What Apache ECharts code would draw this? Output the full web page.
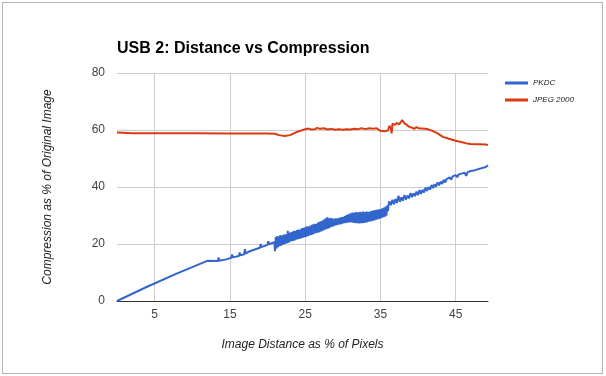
<!DOCTYPE html>
<html>
<head>
<meta charset="utf-8">
<script src="https://cdn.jsdelivr.net/npm/echarts@6/dist/echarts.min.js"></script>
<style>
  body { margin: 0; background: #fff; }
  #chart { position: absolute; left: 0; top: 0; width: 606px; height: 376px; }
  #frame { position: absolute; left: 2px; top: 2px; width: 599px; height: 370px; border: 1px solid #b5b5b5; pointer-events: none; }
</style>
</head>
<body>
<div id="chart"></div>
<div id="frame"></div>
<script>
// x ticks shown on the axis
const xTicks = [5, 15, 25, 35, 45]

// PKDC: [distance %, compression %]
const pkdc = [
  [0, 0], [4, 5], [8, 9.7], [12, 14.1], [13.4, 14.0],
  [13.5, 15.3], [13.6, 14.1], [14.5, 14.6], [15.2, 15.2], [15.3, 16.3], [15.4, 15.3],
  [16.2, 15.8], [16.3, 17], [16.4, 16], [16.9, 16.4], [17, 18.2], [17.1, 16.6],
  [17.5, 17.3], [18, 17.8], [19, 18.7], [19.1, 20], [19.2, 18.9], [20, 19.7],
  [20.1, 21], [20.2, 19.9], [20.9, 20.6],
  [21.0, 17.5], [21.1, 22.4], [21.2, 18.4], [21.3, 22.8], [21.4, 18.9], [21.5, 22.6], [21.6, 19.2], [21.7, 23.1], [21.8, 19.4], [21.9, 22.9],
  [22.0, 19.7], [22.1, 23.2], [22.2, 19.9], [22.3, 23.4], [22.4, 20.1], [22.5, 23.3], [22.6, 20.3], [22.7, 24.6], [22.8, 20.5], [22.9, 23.9],
  [23.0, 20.8], [23.1, 24.1], [23.2, 21.0], [23.3, 24.3], [23.4, 21.1], [23.5, 24.6], [23.6, 21.3], [23.7, 24.5], [23.8, 21.5], [23.9, 24.9],
  [24.0, 21.7], [24.1, 25.1], [24.2, 21.8], [24.3, 25.0], [24.4, 22.0], [24.5, 25.4], [24.6, 22.1], [24.7, 25.6], [24.8, 22.3], [24.9, 25.8],
  [25.0, 22.5], [25.1, 26.0], [25.2, 22.6], [25.3, 26.2], [25.4, 22.8], [25.5, 26.1], [25.6, 23.0], [25.7, 26.5], [25.8, 23.2], [25.9, 26.7],
  [26.0, 23.4], [26.1, 26.9], [26.2, 23.6], [26.3, 27.1], [26.4, 23.8], [26.5, 27.0], [26.6, 24.0], [26.7, 27.5], [26.8, 24.1], [26.9, 27.8],
  [27.0, 24.3], [27.1, 28.0], [27.2, 24.5], [27.3, 28.2], [27.4, 24.8], [27.5, 28.6], [27.6, 25.0], [27.7, 28.9], [27.8, 25.2], [27.9, 29.4],
  [28.0, 25.4], [28.1, 29.2], [28.2, 25.6], [28.3, 29.0], [28.4, 25.9], [28.5, 29.1], [28.6, 26.1], [28.7, 28.8], [28.8, 26.3], [28.9, 28.9],
  [29.0, 26.5], [29.1, 29.0], [29.2, 26.6], [29.3, 28.9], [29.4, 26.8], [29.5, 29.2], [29.6, 26.9], [29.7, 29.3], [29.8, 27.0], [29.9, 29.4],
  [30.0, 27.2], [30.1, 29.5], [30.2, 27.3], [30.3, 29.8], [30.4, 27.4], [30.5, 30.1], [30.6, 27.5], [30.7, 30.3], [30.8, 27.6], [30.9, 30.6],
  [31.0, 27.7], [31.1, 30.8], [31.2, 27.6], [31.3, 31.0], [31.4, 27.5], [31.5, 30.9], [31.6, 27.4], [31.7, 31.1], [31.8, 27.3], [31.9, 31.2],
  [32.0, 27.3], [32.1, 31.0], [32.2, 27.2], [32.3, 31.3], [32.4, 27.3], [32.5, 31.1], [32.6, 27.3], [32.7, 31.4], [32.8, 27.4], [32.9, 31.2],
  [33.0, 27.5], [33.1, 31.3], [33.2, 27.6], [33.3, 31.4], [33.4, 27.8], [33.5, 31.2], [33.6, 27.9], [33.7, 31.5], [33.8, 28.0], [33.9, 31.6],
  [34.0, 28.2], [34.1, 31.7], [34.2, 28.3], [34.3, 31.9], [34.4, 28.5], [34.5, 32.0], [34.6, 28.6], [34.7, 32.1], [34.8, 28.8], [34.9, 32.2],
  [35.0, 29.0], [35.1, 32.3], [35.2, 29.2], [35.3, 32.5], [35.4, 29.4], [35.5, 32.8], [35.6, 29.6], [35.7, 33.1], [35.8, 29.9], [35.9, 33.5],
  [36.0, 31.5], [36.1, 34.0],
  [36.2, 35.0], [36.4, 33.6], [36.6, 35.5], [36.8, 34.0], [37.0, 35.8], [37.2, 34.4], [37.4, 36.9], [37.6, 34.8], [37.8, 36.4], [38.0, 35.2],
  [38.2, 37.2], [38.4, 35.6], [38.6, 37.0], [38.8, 36.0], [39.0, 37.9], [39.2, 36.4], [39.4, 37.8], [39.6, 36.8], [39.8, 38.4], [40.0, 37.2],
  [40.2, 38.9], [40.4, 37.6], [40.6, 39.0], [40.8, 38.1], [41.0, 39.8], [41.2, 38.6], [41.4, 40.0], [41.6, 39.1], [41.8, 40.7], [42.0, 39.6],
  [42.2, 41.0], [42.4, 40.1], [42.6, 41.6], [42.8, 40.6], [43.0, 41.9], [43.2, 41.1], [43.4, 42.5], [43.6, 41.6], [43.8, 42.8], [44.0, 42.1],
  [44.2, 43.4], [44.4, 42.6], [44.6, 43.7], [44.8, 43.0], [45.0, 44.2], [45.2, 43.4], [45.4, 44.4], [45.6, 43.8], [45.8, 44.7], [46.0, 44.2],
  [46.2, 45.0], [46.4, 43.9], [46.6, 45.2], [46.8, 44.8], [47.0, 45.6], [47.2, 45.1], [47.4, 45.8], [47.6, 45.4], [47.8, 46.1], [48.0, 45.8],
  [48.2, 46.4], [48.4, 46.1], [48.6, 46.7], [48.8, 46.4], [49.0, 47.0], [49.2, 46.8], [49.3, 47.6]
]

// JPEG 2000: [distance %, compression %]
const jpeg2000 = [
  [0, 59.1], [2, 58.9], [5, 58.9], [10, 58.9], [15, 58.8], [20, 58.8], [21, 58.7],
  [21.5, 58.2], [22.3, 57.9], [23, 58.2], [24, 59.4], [25, 60.3], [25.5, 60.5],
  [25.8, 60.2], [26, 60.9], [26.3, 60.3], [26.6, 60.7], [27, 60.4], [27.5, 60.6],
  [28, 60.2], [28.5, 60.4], [29, 60.1], [29.5, 60.3], [30, 60.1], [30.5, 60.3],
  [31, 60.2], [31.5, 60.4], [32, 60.3], [32.5, 60.6], [33, 60.3], [33.5, 60.6],
  [34, 60.4], [34.5, 60.6], [35, 59.7], [35.5, 59.6], [36, 59.8], [36.2, 61.5],
  [36.4, 60.5], [36.5, 58.8], [36.6, 62.2], [36.9, 61.8], [37.2, 62.5], [37.5, 62],
  [37.9, 63.5], [38.2, 62.3], [38.5, 61.8], [38.8, 61.2], [39.2, 60.8], [39.5, 60.4],
  [39.8, 61], [40.2, 60.5], [40.5, 60.5], [41, 60.4], [41.3, 60.3], [42, 59.6],
  [42.6, 58.8], [43.3, 57.6], [44, 57], [45, 56.2], [46, 55.6], [46.5, 55.3],
  [47, 55.1], [48, 55], [49, 54.9], [49.3, 54.7]
]

const font = 'Liberation Sans, Arial, sans-serif'
const chart = echarts.init(document.getElementById('chart'))

chart.setOption({
  animation: false,
  color: ['#3366cc', '#dc3912'],
  title: {
    text: 'USB 2: Distance vs Compression',
    left: 112,
    top: 36,
    textStyle: { fontSize: 16, fontWeight: 'bold', color: '#000', fontFamily: font }
  },
  legend: {
    orient: 'vertical',
    left: 500,
    top: 74,
    icon: 'rect',
    itemWidth: 23,
    itemHeight: 3,
    itemGap: 9,
    textStyle: { fontSize: 8, fontStyle: 'italic', color: '#222', fontFamily: font },
    data: ['PKDC', 'JPEG 2000']
  },
  grid: { left: 117, right: 118, top: 73, bottom: 75 },
  xAxis: {
    type: 'value',
    min: 0,
    max: 49.3,
    name: 'Image Distance as % of Pixels',
    nameLocation: 'middle',
    nameGap: 38,
    nameTextStyle: { fontSize: 12, fontStyle: 'italic', color: '#222', fontFamily: font },
    axisLine: { show: true, lineStyle: { color: '#333', width: 1 } },
    axisTick: { show: false, customValues: xTicks },
    axisLabel: { customValues: xTicks, fontSize: 12, color: '#444', margin: 8, fontFamily: font },
    splitLine: { show: true, lineStyle: { color: '#cccccc' } }
  },
  yAxis: {
    type: 'value',
    min: 0,
    max: 80,
    interval: 20,
    name: 'Compression as % of Original Image',
    nameLocation: 'middle',
    nameGap: 63,
    nameTextStyle: { fontSize: 12, fontStyle: 'italic', color: '#222', fontFamily: font },
    axisLine: { show: false },
    axisTick: { show: false },
    axisLabel: { fontSize: 12, color: '#444', margin: 12, fontFamily: font },
    splitLine: { lineStyle: { color: '#cccccc' } }
  },
  series: [
    {
      name: 'PKDC',
      type: 'line',
      data: pkdc,
      showSymbol: false,
      lineStyle: { width: 2 },
      z: 3
    },
    {
      name: 'JPEG 2000',
      type: 'line',
      data: jpeg2000,
      showSymbol: false,
      lineStyle: { width: 2 },
      z: 2
    }
  ]
})
</script>
</body>
</html>
